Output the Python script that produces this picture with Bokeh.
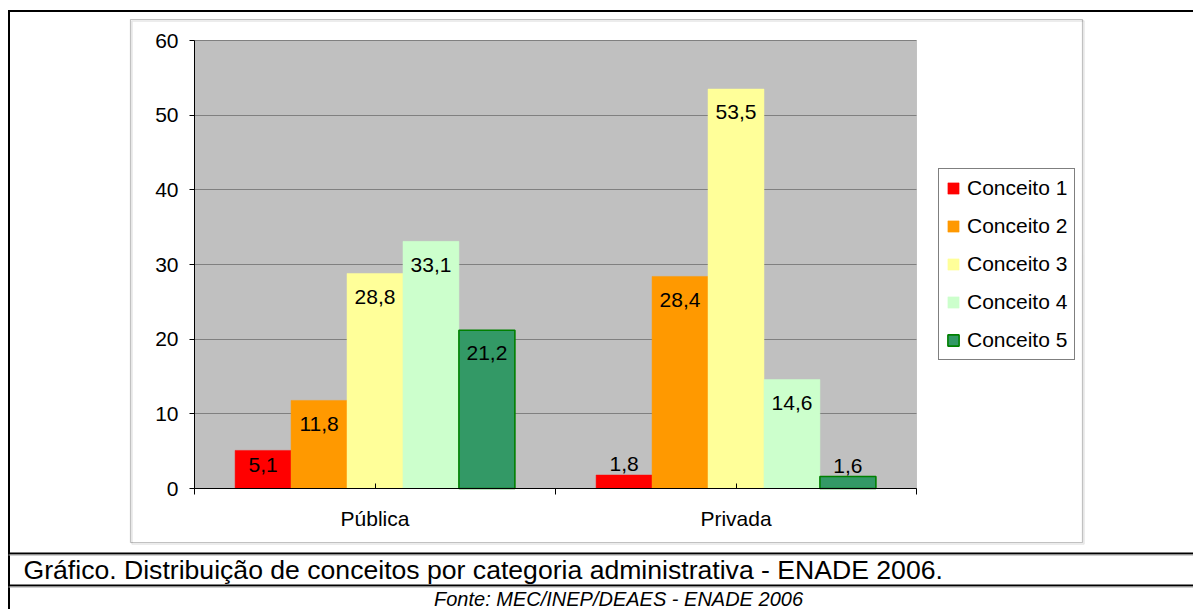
import numpy as np
from bokeh.plotting import figure
from bokeh.models import Range1d, FixedTicker, Label, BoxAnnotation
from bokeh.embed import file_html
from bokeh.resources import INLINE
from bokeh.core.properties import value

# ---------------- data ----------------
categories = ["Pública", "Privada"]
series_names = ["Conceito 1", "Conceito 2", "Conceito 3", "Conceito 4", "Conceito 5"]
conceito_1 = [5.1, 1.8]
conceito_2 = [11.8, 28.4]
conceito_3 = [28.8, 53.5]
conceito_4 = [33.1, 14.6]
conceito_5 = [21.2, 1.6]
y_ticks = [0, 10, 20, 30, 40, 50, 60]
caption_text = "Gráfico. Distribuição de conceitos por categoria administrativa - ENADE 2006."
source_text = "Fonte: MEC/INEP/DEAES - ENADE 2006"

series_values = [conceito_1, conceito_2, conceito_3, conceito_4, conceito_5]

# ---------------- styles / layout ----------------
FONT = "Liberation Sans"
fill_colors = ["#FF0000", "#FF9900", "#FFFF99", "#CCFFCC", "#339966"]
line_colors = ["#FF0000", "#FF9900", "#FFFF99", "#CCFFCC", "#008000"]
line_widths = [0.5, 0.5, 0.5, 0.5, 1.6]
BAR_W = 0.155

W, H = 1193, 609
X0_PX, X1_PX, Y_TOP_PX, Y_BOT_PX = 194, 916, 40, 488   # plot-area box on the canvas

n_cat = len(categories)
y_max = y_ticks[-1]
kx = n_cat / (X1_PX - X0_PX)
ky = y_max / (Y_BOT_PX - Y_TOP_PX)
x_range = Range1d(-X0_PX * kx, n_cat + (W - X1_PX) * kx)
y_range = Range1d(-(H - Y_BOT_PX) * ky, y_max + Y_TOP_PX * ky)

p = figure(width=W, height=H, x_range=x_range, y_range=y_range,
           output_backend="svg", toolbar_location=None, min_border=0,
           background_fill_color="white", border_fill_color="white",
           outline_line_color=None)

# plot area background (gray) + its border
p.add_layout(BoxAnnotation(left=0, right=n_cat, bottom=0, top=y_max,
                           fill_color="#C0C0C0", fill_alpha=1,
                           line_color="#808080", line_width=1, level="image"))

centers = np.arange(n_cat) + 0.5
n = len(series_names)
for i, (name, vals) in enumerate(zip(series_names, series_values)):
    xs = centers + (i - (n - 1) / 2) * BAR_W
    p.vbar(x=xs, top=vals, width=BAR_W, bottom=0,
           fill_color=fill_colors[i], line_color=line_colors[i], line_width=line_widths[i],
           legend_label=name)

# data labels
in_x, in_y, in_t, out_x, out_y, out_t = [], [], [], [], [], []
for i, vals in enumerate(series_values):
    xs = centers + (i - (n - 1) / 2) * BAR_W
    for x, v in zip(xs, vals):
        t = f"{v:.1f}".replace(".", ",")
        if v > 3:
            in_x.append(x); in_y.append(v - min(3.1, 0.37 * v)); in_t.append(t)
        else:
            out_x.append(x); out_y.append(v); out_t.append(t)

p.text(x=in_x, y=in_y, text=in_t, text_align="center", text_baseline="middle",
       text_font=value(FONT), text_font_size="21px", text_color="black")
p.text(x=out_x, y=out_y, text=out_t, text_align="center", text_baseline="bottom",
       y_offset=-4, text_font=value(FONT), text_font_size="21px", text_color="black")

# axes (fixed at the plot-area edges)
yax = p.yaxis[0]
yax.fixed_location = 0
yax.bounds = (0, y_max)
yax.ticker = FixedTicker(ticks=y_ticks)
yax.axis_line_color = "black"
yax.major_tick_line_color = "black"
yax.major_tick_out = 5
yax.major_tick_in = 0
yax.minor_tick_line_color = None
yax.major_label_standoff = 11
yax.major_label_text_font = FONT
yax.major_label_text_font_size = "21px"
yax.major_label_text_color = "black"

xax = p.xaxis[0]
xax.fixed_location = 0
xax.bounds = (0, n_cat)
xax.ticker = FixedTicker(ticks=list(centers), minor_ticks=list(np.arange(n_cat + 1)))
xax.major_label_overrides = {float(c): cat for c, cat in zip(centers, categories)}
xax.axis_line_color = "black"
xax.major_tick_line_color = "black"
xax.major_tick_in = 5
xax.major_tick_out = 0
xax.minor_tick_line_color = "black"
xax.minor_tick_in = 0
xax.minor_tick_out = 6
xax.major_label_standoff = 12
xax.major_label_text_font = FONT
xax.major_label_text_font_size = "21px"
xax.major_label_text_color = "black"

p.xgrid.visible = False
yg = p.ygrid[0]
yg.grid_line_color = "#808080"
yg.grid_line_width = 1
try:
    yg.cross_bounds = (0, n_cat)
except Exception:
    yg.visible = False
    p.segment(x0=[0] * len(y_ticks), x1=[n_cat] * len(y_ticks), y0=y_ticks, y1=y_ticks,
              line_color="#808080", line_width=1, level="underlay")

# legend
lg = p.legend[0]
lg.location = (938, H - 360)
lg.border_line_color = "black"
lg.border_line_width = 1
lg.background_fill_color = "white"
lg.background_fill_alpha = 1
lg.label_text_font = FONT
lg.label_text_font_size = "21px"
lg.label_text_color = "black"
lg.glyph_width = 14
lg.glyph_height = 14
lg.label_standoff = 7
lg.label_height = 24
lg.spacing = 14
lg.padding = 7
lg.margin = 0

# ---------- chart frame / table decorations (screen units: frame == canvas) ----------
def rel_x(px):
    return px

def rel_y(py):
    return H - py

def box(l, r, t, b, **kw):
    p.add_layout(BoxAnnotation(left=rel_x(l), right=rel_x(r), top=rel_y(t), bottom=rel_y(b),
                               left_units="screen", right_units="screen",
                               top_units="screen", bottom_units="screen", **kw))

box(131.5, 1083.5, 20.5, 543.5, fill_alpha=0, line_color="#B0B0B0", line_width=1.5)
box(130, 1082, 19, 542, fill_alpha=0, line_color="#333333", line_width=1.2)
box(8, W + 5, 9.5, 11.5, fill_color="black", fill_alpha=1, line_alpha=0)
box(7.5, 9.5, 9.5, H + 5, fill_color="black", fill_alpha=1, line_alpha=0)
box(8, W + 5, 552, 554, fill_color="black", fill_alpha=1, line_alpha=0)
box(8, W + 5, 554, 555, fill_color="#A0A0A0", fill_alpha=1, line_alpha=0)
box(8, W + 5, 584, 586, fill_color="black", fill_alpha=1, line_alpha=0)
box(8, W + 5, 586, 587, fill_color="#A0A0A0", fill_alpha=1, line_alpha=0)

p.add_layout(Label(x=rel_x(23), y=rel_y(569), x_units="screen", y_units="screen",
                   text=caption_text, text_font=FONT, text_font_size="26.6px",
                   text_baseline="middle", text_align="left", text_color="black"))
p.add_layout(Label(x=rel_x(618), y=rel_y(587), x_units="screen", y_units="screen",
                   text=source_text, text_font=FONT, text_font_size="20px",
                   text_font_style="italic",
                   text_baseline="top", text_align="center", text_color="black"))

open("out.html", "w").write(file_html(p, INLINE))
